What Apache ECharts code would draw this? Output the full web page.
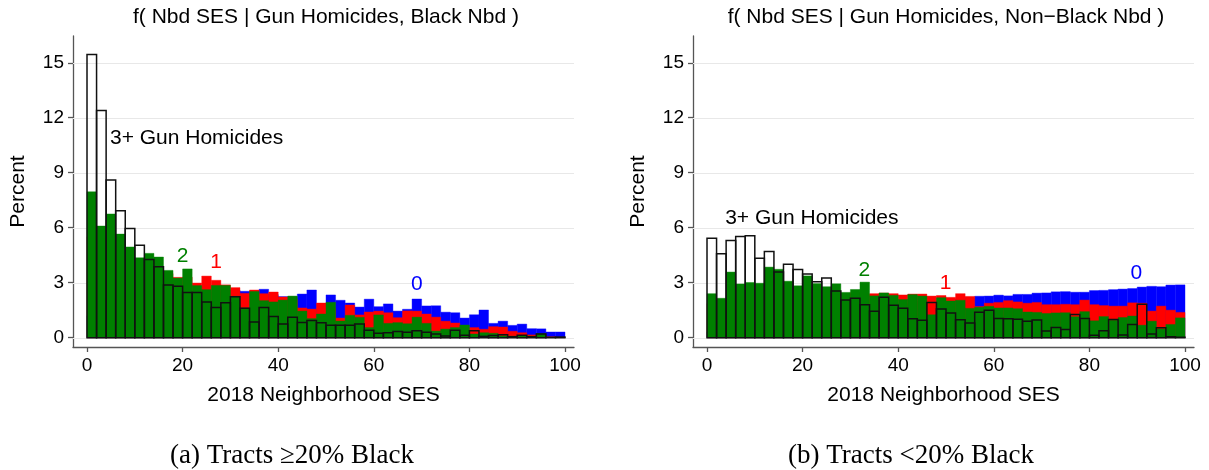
<!DOCTYPE html>
<html>
<head>
<meta charset="utf-8">
<script src="https://cdn.jsdelivr.net/npm/echarts@6/dist/echarts.min.js"></script>
<style>
  html, body { margin: 0; padding: 0; background: #fff; }
  #chart { width: 1209px; height: 470px; }
</style>
</head>
<body>
<div id="chart"></div>
<script>
// Histogram bins of 2018 neighborhood SES (left edges, width 2)
const binLeft = [0,2,4,6,8,10,12,14,16,18,20,22,24,26,28,30,32,34,36,38,
                 40,42,44,46,48,50,52,54,56,58,60,62,64,66,68,70,72,74,76,78,
                 80,82,84,86,88,90,92,94,96,98];
const binWidth = 2;

const xTicks = [0, 20, 40, 60, 80, 100];
const yTicks = [0, 3, 6, 9, 12, 15];
const X_MIN = -2.93, X_MAX = 101.88;
const Y_MIN = -0.51, Y_MAX = 16.46;

// Tracts >=20% Black: percent of tracts per SES bin, by gun homicide count
const blackZero = [1.2,1.4,1.6,1.8,1.9,2.0,2.1,2.2,2.3,2.3,2.4,2.4,2.4,2.5,2.5,2.6,2.53,2.5,2.64,2.35,
                   2.24,2.2,2.38,2.60,1.85,2.33,2.04,1.89,1.67,2.10,1.69,1.84,1.45,1.55,2.11,1.73,1.74,1.39,1.36,1.07,
                   1.25,1.51,0.78,0.90,0.67,0.74,0.49,0.48,0.31,0.31];
const blackOne  = [5.5,5.0,4.8,4.5,4.2,4.0,3.9,3.7,3.5,3.29,3.3,2.98,3.36,3.13,2.88,2.73,2.42,2.60,2.4,2.49,
                   2.22,2.1,1.62,1.56,1.89,1.6,1.07,1.78,1.24,1.40,1.45,1.36,1.09,1.46,1.45,1.29,1.12,0.90,0.80,0.50,
                   0.55,0.46,0.60,0.58,0.35,0.27,0.15,0.15,0.05,0.02];
const blackTwo  = [7.96,6.09,6.75,5.65,4.95,4.36,4.60,4.40,3.67,3.25,3.75,2.84,2.62,2.85,2.85,2.25,1.62,2.52,2.02,1.95,
                   2.05,2.27,1.45,1.04,1.29,1.93,0.91,1.22,1.11,0.55,1.24,0.78,0.82,0.76,1.12,0.78,0.36,0.47,0.55,0.69,
                   0.20,0.27,0.24,0.10,0.08,0.10,0.08,0.22,0.02,0.02];
const blackThreePlus = [15.45,12.4,8.6,6.93,5.95,5.04,4.27,3.87,2.87,2.80,2.46,2.46,1.94,1.64,1.90,2.23,1.61,0.85,1.65,1.16,
                   0.75,1.11,0.83,0.94,0.82,0.67,0.67,0.67,0.74,0.41,0.24,0.27,0.33,0.29,0.38,0.29,0.20,0.09,0.40,0.13,
                   0.38,0.07,0.12,0.16,0.05,0.13,0.05,0.20,0.01,0.03];

// Tracts <20% Black
const nonBlackZero = [0.32,0.48,0.51,0.66,0.71,0.84,0.88,1.02,1.07,1.12,1.24,1.28,1.37,1.41,1.53,1.52,1.63,1.68,1.79,1.77,
                   1.88,1.86,1.97,2.01,2.03,2.12,2.11,2.19,2.26,2.27,2.32,2.28,2.36,2.36,2.43,2.44,2.50,2.51,2.48,2.48,
                   2.57,2.58,2.62,2.65,2.68,2.76,2.80,2.78,2.87,2.88];
const nonBlackOne  = [1.86,2.02,2.11,2.17,2.24,2.28,2.33,2.26,2.41,2.35,2.38,2.44,2.36,2.42,2.39,2.45,2.37,2.40,2.43,2.40,
                   2.33,2.38,2.38,2.27,2.30,2.20,2.40,2.25,1.70,1.88,1.92,2.02,1.95,1.88,1.92,1.80,1.80,1.82,1.80,2.05,
                   1.80,1.75,1.72,1.72,1.90,1.88,1.45,1.72,1.50,1.38];
const nonBlackTwo  = [2.40,2.15,3.58,2.93,3.01,2.97,3.85,3.73,3.08,2.83,3.37,2.95,2.78,2.94,2.47,2.63,3.03,2.28,2.44,2.31,
                   2.08,2.35,2.27,1.25,2.18,2.00,2.04,1.60,1.66,1.71,1.62,1.62,1.58,1.40,1.38,1.32,1.35,1.36,1.14,1.42,
                   0.92,1.15,0.95,1.10,1.18,0.68,0.90,0.48,0.72,1.08];
const nonBlackThreePlus = [5.42,4.58,5.30,5.52,5.56,4.33,4.70,3.58,4.01,3.72,3.48,3.05,3.25,2.54,2.05,2.15,1.80,1.44,2.20,1.77,
                   1.60,1.03,0.95,1.92,1.57,1.35,0.98,0.80,1.38,1.50,1.04,1.03,1.00,0.90,0.96,0.36,0.56,0.45,1.26,1.05,
                   0.13,0.38,0.99,0.14,0.72,1.82,0.20,0.54,0.05,0.02];

// In-plot labels for each homicide group
const notesBlack = [
  { text: '3+ Gun Homicides', at: [4.8, 10.9], color: '#000000', anchor: 'left' },
  { text: '2', at: [20.0, 4.46], color: '#008000' },
  { text: '1', at: [27.0, 4.13], color: '#ff0000' },
  { text: '0', at: [69.0, 2.93], color: '#0000ff' }
];
const notesNonBlack = [
  { text: '3+ Gun Homicides', at: [3.8, 6.54], color: '#000000', anchor: 'left' },
  { text: '2', at: [32.9, 3.69], color: '#008000' },
  { text: '1', at: [49.9, 2.96], color: '#ff0000' },
  { text: '0', at: [89.8, 3.50], color: '#0000ff' }
];

const SANS = '"Liberation Sans", Arial, Helvetica, sans-serif';
const SERIF = '"Liberation Serif", "Times New Roman", serif';
const AXIS_COLOR = '#555555';
const GRID_COLOR = '#e8e8e8';

const rows = vals => vals.map((v, i) => [binLeft[i], binLeft[i] + binWidth, v]);

function binSeries(gi, vals, style, z) {
  return {
    type: 'custom',
    xAxisIndex: gi, yAxisIndex: gi,
    z: z,
    silent: true,
    data: rows(vals),
    encode: { x: [0, 1], y: 2 },
    renderItem: function (params, api) {
      const lo = api.coord([api.value(0), 0]);
      const hi = api.coord([api.value(1), api.value(2)]);
      return {
        type: 'rect',
        shape: { x: lo[0], y: hi[1], width: hi[0] - lo[0], height: lo[1] - hi[1] },
        style: style
      };
    }
  };
}

// Horizontal gridlines behind the bars, one per y tick
function gridSeries(gi) {
  return {
    type: 'custom', xAxisIndex: gi, yAxisIndex: gi, z: 1, silent: true,
    data: yTicks.map(v => [v]),
    encode: { y: 0 },
    renderItem: function (params, api) {
      const a = api.coord([X_MIN, api.value(0)]);
      const b = api.coord([X_MAX, api.value(0)]);
      return {
        type: 'line',
        shape: { x1: a[0], y1: Math.round(a[1]) + 0.5, x2: b[0], y2: Math.round(b[1]) + 0.5 },
        style: { stroke: GRID_COLOR, lineWidth: 1 }
      };
    }
  };
}

function xAxisFor(gi) {
  return {
    type: 'value', gridIndex: gi, min: X_MIN, max: X_MAX,
    name: '2018 Neighborhood SES', nameLocation: 'middle', nameGap: 38,
    nameTextStyle: { fontFamily: SANS, fontSize: 21, color: '#000' },
    axisLine: { show: true, onZero: false, lineStyle: { color: AXIS_COLOR, width: 1.3 } },
    axisTick: { show: true, length: 5, customValues: xTicks, lineStyle: { color: AXIS_COLOR, width: 1.3 } },
    axisLabel: { customValues: xTicks, fontFamily: SANS, fontSize: 19, color: '#000', margin: 9 },
    splitLine: { show: false }
  };
}

function yAxisFor(gi) {
  return {
    type: 'value', gridIndex: gi, min: Y_MIN, max: Y_MAX,
    name: 'Percent', nameLocation: 'middle', nameGap: 44, nameRotate: 90,
    nameTextStyle: { fontFamily: SANS, fontSize: 21, color: '#000' },
    axisLine: { show: true, onZero: false, lineStyle: { color: AXIS_COLOR, width: 1.3 } },
    axisTick: { show: true, length: 5, customValues: yTicks, lineStyle: { color: AXIS_COLOR, width: 1.3 } },
    axisLabel: { customValues: yTicks, fontFamily: SANS, fontSize: 19, color: '#000', margin: 9 },
    splitLine: { show: false }
  };
}

const fillStyle = c => ({ fill: c, stroke: c, lineWidth: 0.4 });
const outlineStyle = { fill: 'none', stroke: '#111111', lineWidth: 1.5 };

function panelSeries(gi, zero, one, two, three) {
  return [
    gridSeries(gi),
    binSeries(gi, zero, fillStyle('#0000ff'), 2),
    binSeries(gi, one, fillStyle('#ff0000'), 3),
    binSeries(gi, two, fillStyle('#008000'), 4),
    binSeries(gi, three, outlineStyle, 5)
  ];
}

const chart = echarts.init(document.getElementById('chart'), null, { renderer: 'canvas' });

const headings = [
  { type: 'text', x: 326, y: 17, z: 20, style: { text: 'f( Nbd SES | Gun Homicides, Black Nbd )', font: '21px ' + SANS, fill: '#000', textAlign: 'center', textVerticalAlign: 'middle' } },
  { type: 'text', x: 946, y: 17, z: 20, style: { text: 'f( Nbd SES | Gun Homicides, Non\u2212Black Nbd )', font: '21px ' + SANS, fill: '#000', textAlign: 'center', textVerticalAlign: 'middle' } },
  { type: 'text', x: 292, y: 456, z: 20, style: { text: '(a) Tracts \u226520% Black', font: '27px ' + SERIF, fill: '#000', textAlign: 'center', textVerticalAlign: 'middle' } },
  { type: 'text', x: 911, y: 456, z: 20, style: { text: '(b) Tracts <20% Black', font: '27px ' + SERIF, fill: '#000', textAlign: 'center', textVerticalAlign: 'middle' } }
];

chart.setOption({
  backgroundColor: '#ffffff',
  animation: false,
  grid: [
    { left: 73, right: 635, top: 36, bottom: 123, containLabel: false },
    { left: 693, right: 15, top: 36, bottom: 123, containLabel: false }
  ],
  xAxis: [xAxisFor(0), xAxisFor(1)],
  yAxis: [yAxisFor(0), yAxisFor(1)],
  series: [].concat(
    panelSeries(0, blackZero, blackOne, blackTwo, blackThreePlus),
    panelSeries(1, nonBlackZero, nonBlackOne, nonBlackTwo, nonBlackThreePlus)
  ),
  graphic: headings
});

// Group labels placed at data coordinates through each grid's scales
function noteGraphics(gi, notes) {
  return notes.map(n => {
    const p = chart.convertToPixel({ gridIndex: gi }, n.at);
    return {
      type: 'text', x: p[0], y: p[1], z: 20, silent: true,
      style: {
        text: n.text, font: '21px ' + SANS, fill: n.color,
        textAlign: n.anchor === 'left' ? 'left' : 'center', textVerticalAlign: 'middle'
      }
    };
  });
}

chart.setOption({
  graphic: headings.concat(noteGraphics(0, notesBlack), noteGraphics(1, notesNonBlack))
});
</script>
</body>
</html>
